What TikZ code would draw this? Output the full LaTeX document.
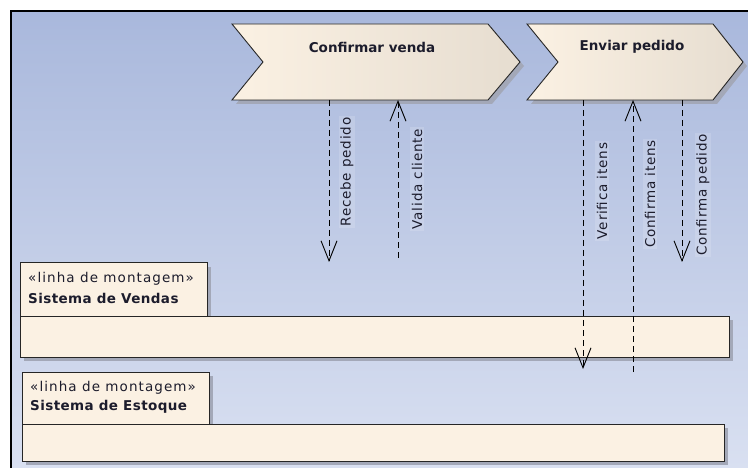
\documentclass[tikz,border=0pt]{standalone}
\usepackage{fontspec}
\setmainfont{DejaVu Sans}
\usetikzlibrary{arrows.meta}
\definecolor{bgtop}{HTML}{A9B8DC}
\definecolor{bgbot}{HTML}{D9E0F1}
\definecolor{cream}{HTML}{FBF1E3}
\definecolor{creamdk}{HTML}{E6DDD0}
\definecolor{shadowc}{HTML}{A3A8B8}
\definecolor{txt}{HTML}{1C1C2C}
\newfontfamily\lblfont[LetterSpace=6]{DejaVu Sans}
\newfontfamily\stfont[LetterSpace=8]{DejaVu Sans}
\newfontfamily\bfnamefont[LetterSpace=3]{DejaVu Sans Bold}
\tikzset{
  x=1pt, y=-1pt,
  chev/.style={draw=black!85, line width=0.9pt, left color=cream, right color=creamdk, line join=miter},
  chevshadow/.style={fill=shadowc},
  lanebox/.style={draw=black!85, line width=1pt, fill=cream},
  laneshadow/.style={fill=shadowc},
  flow/.style={draw=black, line width=0.9pt, dash pattern=on 6pt off 4pt,
    -{Straight Barb[length=20pt,width=16pt,line width=0.9pt]}},
  flowlbl/.style={rotate=90, font=\lblfont\fontsize{13.5}{14}\selectfont, text=txt,
    fill=white, fill opacity=0.15, text opacity=1, inner sep=1.5pt},
  chevlbl/.style={font=\fontsize{13.5}{14}\selectfont\bfseries, text=txt},
  stereo/.style={anchor=west, font=\stfont\fontsize{13.5}{14}\selectfont, text=txt, inner sep=0pt},
  lanename/.style={anchor=west, font=\bfnamefont\fontsize{13.5}{14}\selectfont, text=txt, inner sep=0pt},
}
\begin{document}
\begin{tikzpicture}
\useasboundingbox (0,0) rectangle (748,468);
\fill[white] (0,0) rectangle (748,468);
\shade[top color=bgtop, bottom color=bgbot] (11,11) rectangle (748,468);
\draw[black, line width=2.5pt] (11,468) -- (11,11) -- (748,11);

% chevrons
\fill[chevshadow] (236,28) -- (492,28) -- (524,66) -- (492,104) -- (236,104) -- (267,66) -- cycle;
\draw[chev] (232,24) -- (488,24) -- (520,62) -- (488,100) -- (232,100) -- (263,62) -- cycle;
\node[chevlbl] (cv) at (372,47) {Confirmar venda};
\fill[chevshadow] (531,28) -- (717,28) -- (747,66) -- (717,104) -- (531,104) -- (562,66) -- cycle;
\draw[chev] (527,24) -- (713,24) -- (743,62) -- (713,100) -- (527,100) -- (558,62) -- cycle;
\node[chevlbl] (ep) at (632,47) {Enviar pedido};

% lanes
\fill[laneshadow] (24,267) rectangle (211,320);
\fill[laneshadow] (24,320) rectangle (733,361);
\draw[lanebox] (20,316) rectangle (729,357);
\draw[lanebox] (20,263) rectangle (207,316);
\node[stereo] (sv1) at (28,279) {«linha de montagem»};
\node[lanename] (sv2) at (28,298) {Sistema de Vendas};

\fill[laneshadow] (26,376) rectangle (213,428);
\fill[laneshadow] (26,428) rectangle (728,465);
\draw[lanebox] (22,424) rectangle (724,461);
\draw[lanebox] (22,372) rectangle (209,424);
\node[stereo] (se1) at (30,388) {«linha de montagem»};
\node[lanename] (se2) at (30,407) {Sistema de Estoque};

% connector end points
\coordinate (r0) at (329,100); \coordinate (r1) at (329,262);
\coordinate (v0) at (398,258); \coordinate (v1) at (398,100);
\coordinate (vi0) at (583,100); \coordinate (vi1) at (583,369);
\coordinate (ci0) at (633,372); \coordinate (ci1) at (633,100);
\coordinate (cp0) at (682,100); \coordinate (cp1) at (682,262);

\draw[flow] (r0) -- (r1);
\draw[flow] (v0) -- (v1);
\draw[flow] (vi0) -- (vi1);
\draw[flow] (ci0) -- (ci1);
\draw[flow] (cp0) -- (cp1);

\node[flowlbl] (lr) at (347,172) {Recebe pedido};
\node[flowlbl] (lv) at (417,179) {Valida cliente};
\node[flowlbl] (lvi) at (602,191) {Verifica itens};
\node[flowlbl] (lci) at (650,194) {Confirma itens};
\node[flowlbl] (lcp) at (703,195) {Confirma pedido};
\end{tikzpicture}
\end{document}
